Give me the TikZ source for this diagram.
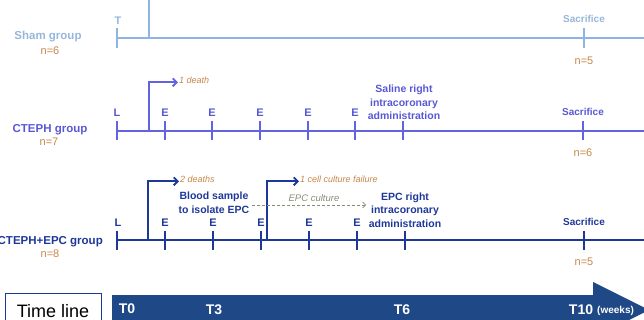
\documentclass[tikz,border=0pt]{standalone}
\usepackage{fontspec}
\setmainfont{Liberation Sans}
\usetikzlibrary{arrows.meta,positioning,calc}
\definecolor{shamline}{RGB}{141,180,226}
\definecolor{shamtext}{RGB}{150,182,218}
\definecolor{ctephline}{RGB}{98,98,226}
\definecolor{ctephtext}{RGB}{88,88,214}
\definecolor{epcline}{RGB}{30,56,152}
\definecolor{timeblue}{RGB}{31,72,134}
\definecolor{countorange}{RGB}{198,134,74}
\definecolor{culturegray}{RGB}{140,140,118}

\begin{document}
\begin{tikzpicture}[x=1pt, y=-1pt, >=Stealth,
    grouptext/.style={font=\bfseries\fontsize{11.5}{13}\selectfont, inner sep=0pt, anchor=base},
    countlabel/.style={text=countorange, font=\fontsize{11}{13}\selectfont, inner sep=0pt, anchor=base},
    ticklabel/.style={font=\bfseries\fontsize{11}{13}\selectfont, inner sep=0pt, anchor=base},
    eventtext/.style={font=\bfseries\fontsize{10.5}{13.3}\selectfont, align=center, inner sep=0pt, anchor=base},
    notetext/.style={text=countorange, font=\itshape\fontsize{9}{11}\selectfont, inner sep=1pt, anchor=base west},
    tickmark/.style={line width=2.2pt},
    fork/.style={line width=1.8pt, -{Straight Barb[length=4pt,width=8pt]}},
    timelabel/.style={text=white, font=\bfseries\fontsize{14}{16}\selectfont, inner sep=0pt, anchor=base},
]
\useasboundingbox (0,0) rectangle (644,320);

% sham group
\coordinate (sT) at (117,38);
\coordinate (sS) at (584,38);
\coordinate (send) at (644,38);
\coordinate (stop) at (149,0);
\coordinate (sjoin) at (149,38);
\draw[shamline, line width=1.8pt] (sT) -- (send);
\draw[shamline, line width=1.8pt] (stop) -- (sjoin);
\draw[shamline, tickmark] (sT) ++(0,-10) -- ++(0,20);
\draw[shamline, tickmark] (sS) ++(0,-10) -- ++(0,20);
\node[ticklabel, text=shamtext] (sTlab) at (118,25) {T};
\node[ticklabel, text=shamtext, font=\bfseries\fontsize{10}{12}\selectfont] (sSlab) at (584,22.5) {Sacrifice};
\node[countlabel] (sSn) at (584,65) {n=5};
\node[grouptext, text=shamtext] (shamlab) at (48,40) {Sham group};
\node[countlabel] (shamn) at (50,55) {n=6};

% CTEPH group
\coordinate (cL) at (117,131);
\coordinate (cA) at (403,131);
\coordinate (cS) at (583,131);
\coordinate (cend) at (644,131);
\coordinate (cfork) at (149,131);
\draw[ctephline, line width=2pt] (cL) -- (cend);
\draw[ctephline, tickmark] (cL) ++(0,-9.5) -- ++(0,19);
\node[ticklabel, text=ctephtext] (cLlab) at (117,117) {L};
\foreach \x [count=\i] in {165,212,260,308,355}{
    \coordinate (cE\i) at (\x,131);
    \draw[ctephline, tickmark] (cE\i) ++(0,-9.5) -- ++(0,19);
    \node[ticklabel, text=ctephtext] (cElab\i) at (\x,117) {E};
}
\draw[ctephline, tickmark] (cA) ++(0,-9.5) -- ++(0,19);
\draw[ctephline, tickmark] (cS) ++(0,-9.5) -- ++(0,19);
\node[eventtext, text=ctephtext] (cAlab) at (404,119.5) {Saline right\\intracoronary\\administration};
\node[ticklabel, text=ctephtext, font=\bfseries\fontsize{10}{12}\selectfont] (cSlab) at (583,116) {Sacrifice};
\node[countlabel] (cSn) at (583,157) {n=6};
\node[notetext] (cdeath) at (178,84) {1 death};
\draw[ctephline, fork] (cfork) |- ([yshift=-1.5pt]cdeath.west);
\node[grouptext, text=ctephtext] (ctephlab) at (50,133) {CTEPH group};
\node[countlabel] (ctephn) at (49,146) {n=7};

% CTEPH+EPC group
\coordinate (eL) at (117,240);
\coordinate (eA) at (405,240);
\coordinate (eS) at (584,240);
\coordinate (eend) at (644,240);
\coordinate (efork) at (148,240);
\coordinate (ecell) at (267,240);
\draw[epcline, line width=2pt] (eL) -- (eend);
\draw[epcline, tickmark] (eL) ++(0,-9.5) -- ++(0,19);
\node[ticklabel, text=epcline] (eLlab) at (118,226) {L};
\foreach \x [count=\i] in {165,213,261,309,357}{
    \coordinate (eE\i) at (\x,240);
    \draw[epcline, tickmark] (eE\i) ++(0,-9.5) -- ++(0,19);
    \node[ticklabel, text=epcline] (eElab\i) at (\x,226.5) {E};
}
\draw[epcline, tickmark] (eA) ++(0,-9.5) -- ++(0,19);
\draw[epcline, tickmark] (eS) ++(0,-9.5) -- ++(0,19);
\node[eventtext, text=epcline] (blood) at (214,213) {Blood sample\\to isolate EPC};
\node[eventtext, text=epcline] (eAlab) at (405,227) {EPC right\\intracoronary\\administration};
\node[ticklabel, text=epcline, font=\bfseries\fontsize{10}{12}\selectfont] (eSlab) at (584,225) {Sacrifice};
\node[countlabel] (eSn) at (584,265) {n=5};
\node[notetext] (edeath) at (179,183) {2 deaths};
\node[notetext] (efail) at (299,183) {1 cell culture failure};
\draw[epcline, fork] (efork) |- ([yshift=-1.5pt]edeath.west);
\draw[epcline, fork] (ecell) |- ([yshift=-1.5pt]efail.west);
\coordinate (cultstart) at (252,205);
\coordinate (cultend) at (366,205);
\draw[culturegray, line width=0.7pt, dashed, dash pattern=on 3pt off 2pt, -{Straight Barb[length=3pt,width=6pt]}] (cultstart) -- (cultend);
\node[text=culturegray, font=\itshape\fontsize{9.5}{11}\selectfont, inner sep=0pt, anchor=base] (cultlab) at (314,202) {EPC culture};
\node[grouptext, text=epcline, anchor=base east] (epclab) at (103,244) {CTEPH+EPC group};
\node[countlabel] (epcn) at (50,257) {n=8};

% time line
\node[draw=epcline, line width=1.4pt, minimum width=96pt, minimum height=30pt, anchor=north west, inner sep=0pt] (tbox) at (4.5,292.5) {};
\node[font=\fontsize{18}{20}\selectfont, inner sep=0pt, anchor=base] (tboxlab) at (53,317) {Time line};
\fill[timeblue] (112,295) -- (593,295) -- (593,282) -- (649,310) -- (593,338) -- (593,325) -- (112,325) -- cycle;
\node[timelabel] (t0) at (127,313) {T0};
\node[timelabel] (t3) at (214,314) {T3};
\node[timelabel] (t6) at (402,314) {T6};
\node[timelabel] (t10) at (581,314.5) {T10};
\node[text=white, font=\bfseries\fontsize{10}{12}\selectfont, inner sep=0pt, anchor=base west] (weeks) at (597,313) {(weeks)};
\end{tikzpicture}
\end{document}
